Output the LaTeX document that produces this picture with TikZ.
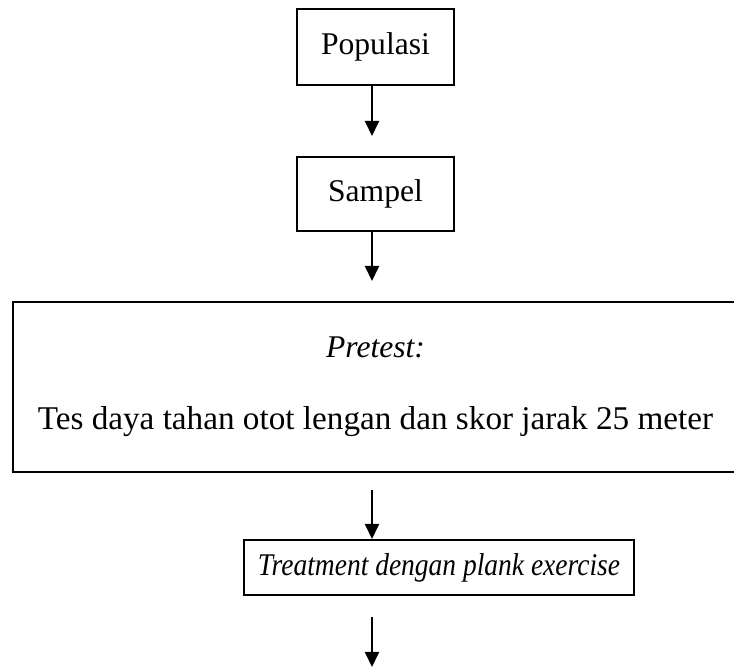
\documentclass[tikz,border=0pt]{standalone}
\usepackage{fontspec}
\setmainfont{Liberation Serif}
\usetikzlibrary{arrows.meta}
\usetikzlibrary{positioning}

\begin{document}
\begin{tikzpicture}[line width=1pt,node distance=35pt,
                    font=\fontsize{15.8}{19}\selectfont]
  \tikzstyle{blok}=[draw, rectangle, inner sep=0pt, minimum width=78.5pt, minimum height=38pt]
  \tikzstyle{panah}=[-{Triangle[length=7.5pt,width=7pt]}]
  \useasboundingbox (0,0) rectangle (367pt,-333.5pt);
  \coordinate (ax) at (186pt,0);
  \coordinate (akhir) at (186pt,-333.5pt);
  \node[blok] (pop) at (187.75pt,-23.5pt) {Populasi};
  \node[blok, minimum height=37pt] (samp) [below=of pop] {Sampel};
  \node[blok, minimum width=362.5pt, minimum height=85pt, align=center] (pre) [below=34.5pt of samp]
        {\textit{Pretest:}\\[17pt]{\fontsize{16.6}{19}\selectfont Tes daya tahan otot lengan dan skor jarak 25 meter}};
  \node[blok, minimum width=195pt, minimum height=27.5pt] (treat) [below=33pt of pre, xshift=31.75pt]
        {\scalebox{0.87}[1]{\textit{Treatment dengan plank exercise}}};
  \draw[panah, shorten >=10pt] (pop.south -| ax) -- (samp.north -| ax);
  \draw[panah, shorten >=10pt] (samp.south -| ax) -- (pre.north -| ax);
  \draw[panah, shorten <=8.5pt] (pre.south -| ax) -- (treat.north -| ax);
  \draw[panah, shorten <=10.5pt] (treat.south -| ax) -- (akhir);
\end{tikzpicture}
\end{document}
